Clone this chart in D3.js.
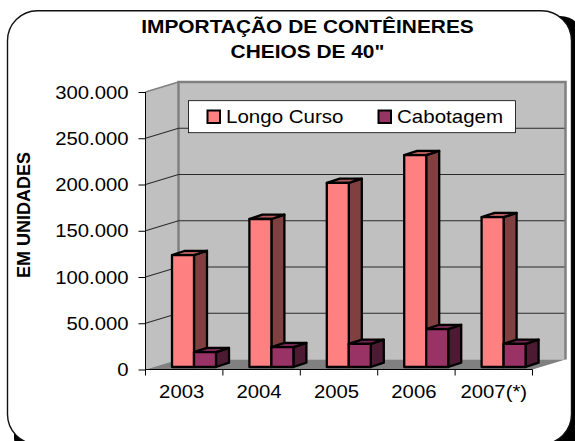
<!DOCTYPE html>
<html><head><meta charset="utf-8">
<script src="https://cdn.jsdelivr.net/npm/d3@7"></script>
<style>html,body{margin:0;padding:0;background:#fff;overflow:hidden}svg{display:block}text{font-family:"Liberation Sans",Arial,sans-serif;fill:#000}</style>
</head><body><svg id="c" width="575" height="441"></svg>
<script>
const categories=["2003","2004","2005","2006","2007(*)"];
const seriesNames=["Longo Curso","Cabotagem"];
const longoCurso=[121000,160000,199000,229000,162000];
const cabotagem=[16000,21500,25000,41000,25000];
const yTicks=[0,50000,100000,150000,200000,250000,300000];
const titleLines=["IMPORTAÇÃO DE CONTÊINERES",'CHEIOS DE 40"'];
const yTitle="EM UNIDADES";
const colors={long:{f:"#ff8080",s:"#804040",t:"#b35a5a"},cab:{f:"#993366",s:"#4d1a33",t:"#732650"}};

const svg=d3.select("#c");
const fmt=v=>v===0?"0":d3.format(",")(v).replace(/,/g,".");
const stretch=(sel,k)=>sel.each(function(){
  const w=this.getComputedTextLength();
  d3.select(this).attr("textLength",w*k).attr("lengthAdjust","spacingAndGlyphs");
});
const x=d3.scaleBand().domain(categories).range([145.5,532.5]);
const y=d3.scaleLinear().domain([0,300000]).range([369.5,92]);
const dx=33,dy=-10;

// frame (runs past the bottom edge of the picture)
svg.append("rect").attr("x",14).attr("y",16).attr("width",570).attr("height",445).attr("rx",24).attr("fill","#000");
svg.append("rect").attr("x",7.5).attr("y",10.7).attr("width",564).attr("height",433.5).attr("rx",30).attr("fill","#fff").attr("stroke","#111").attr("stroke-width",1.4);

// walls
const L=x.range()[0],R=x.range()[1],T=y(300000),B=y(0);
svg.append("path").attr("d",`M${L},${B}L${L+dx},${B+dy}L${L+dx},${T+dy}L${L},${T}Z`).attr("fill","#c0c0c0");
svg.append("path").attr("d",`M${L+dx},${B+dy}H${R+dx}V${T+dy}H${L+dx}Z`).attr("fill","#c0c0c0");
svg.append("path").attr("d",`M${L},${B}L${L+dx},${B+dy}H${R+dx}L${R},${B}Z`).attr("fill","#808080");
svg.append("path").attr("d",`M${L+dx},${B+dy}V${T+dy}H${R+dx}V${B+dy}`).attr("fill","none").attr("stroke","#808080").attr("stroke-width",2.5);
svg.append("path").attr("d",`M${L},${T}L${L+dx},${T+dy}`).attr("fill","none").attr("stroke","#808080").attr("stroke-width",1.5);
// gridlines
yTicks.filter(d=>d>0&&d<300000).forEach(d=>{
  svg.append("path").attr("d",`M${L},${y(d)}L${L+dx},${y(d)+dy}H${R+dx-1}`).attr("fill","none").attr("stroke","#2a2a2a").attr("stroke-width",1.1);
});

// bars
const depth=13,depthY=-4.3,offX=9.8,offY=-2.5,bw=22;
function bar(val,i,k,c){
  const x0=x(categories[i])+(x.bandwidth()-2*bw)/2+offX+k*bw, x1=x0+bw, yb=y(0)+offY, yt=y(val)+offY;
  const g=svg.append("g").attr("stroke","#000").attr("stroke-width",2.3).attr("stroke-linejoin","round");
  g.append("path").attr("d",`M${x1},${yt}L${x1+depth},${yt+depthY}V${yb+depthY}L${x1},${yb}Z`).attr("fill",c.s);
  g.append("path").attr("d",`M${x0},${yt}L${x0+depth},${yt+depthY}H${x1+depth}L${x1},${yt}Z`).attr("fill",c.t);
  g.append("rect").attr("x",x0).attr("y",yt).attr("width",bw).attr("height",yb-yt).attr("fill",c.f);
}
categories.forEach((c,i)=>{bar(longoCurso[i],i,0,colors.long);bar(cabotagem[i],i,1,colors.cab);});

// axes
const gy=svg.append("g").attr("transform",`translate(${L},0)`).call(d3.axisLeft(y).tickValues(yTicks).tickFormat(fmt).tickSize(7).tickPadding(10));
gy.selectAll("path").attr("d",`M0,${T}V${B}`).attr("stroke","#000");
gy.selectAll("text").attr("font-size",18.8).style("font-family",'"Liberation Sans",Arial,sans-serif').call(stretch,1.08);
const xTickVals=categories.map(c=>x(c)).concat([R]);
const gx=svg.append("g").attr("transform",`translate(0,${B})`);
gx.append("path").attr("d",`M${L},0H${R}`).attr("stroke","#000").attr("stroke-width",1.2);
xTickVals.forEach(v=>gx.append("path").attr("d",`M${v},0V6`).attr("stroke","#000"));
categories.forEach((c,i)=>gx.append("text").attr("x",x(c)+x.bandwidth()/2+(i===categories.length-1?0:-2.5)).attr("y",28).attr("text-anchor","middle").attr("font-size",18.8).text(c).call(stretch,1.08));

// titles
titleLines.forEach((t,i)=>svg.append("text").attr("x",307.5).attr("y",33+i*25).attr("text-anchor","middle").attr("font-weight","bold").attr("font-size",18).text(t).call(stretch,1.16));
svg.append("text").attr("transform","translate(29.5,215) rotate(-90)").attr("text-anchor","middle").attr("font-weight","bold").attr("font-size",18).text(yTitle);

// legend
svg.append("rect").attr("x",188.5).attr("y",100.7).attr("width",327).attr("height",32).attr("fill","#fff").attr("stroke","#000").attr("stroke-width",0.8);
const lg=[{x:207.5,c:colors.long.f,tx:226},{x:378.5,c:colors.cab.f,tx:397}];
lg.forEach((l,i)=>{
  svg.append("rect").attr("x",l.x).attr("y",110.5).attr("width",12.5).attr("height",12.5).attr("fill",l.c).attr("stroke","#000").attr("stroke-width",2);
  svg.append("text").attr("x",l.tx).attr("y",122.7).attr("font-size",19).text(seriesNames[i]).call(stretch,1.08);
});
</script></body></html>
